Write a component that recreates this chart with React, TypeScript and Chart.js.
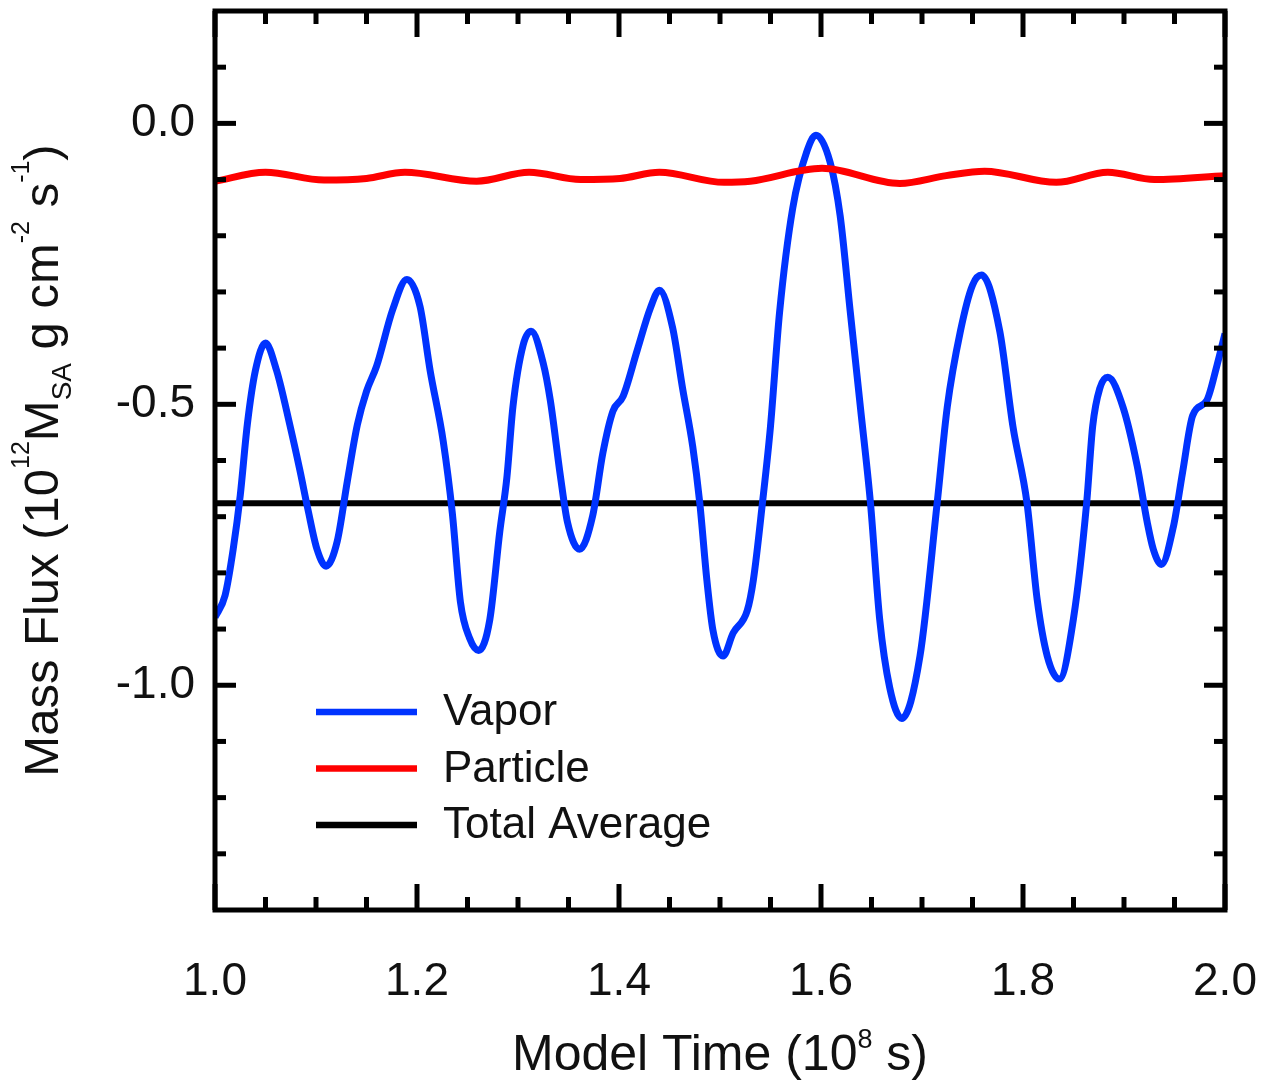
import React, { useEffect, useRef } from "react";
import { Chart, registerables } from "chart.js";

Chart.register(...registerables);

// ---- data ----
const vaporTime = [
  1.0, 1.01, 1.018, 1.025, 1.032, 1.04, 1.05, 1.061, 1.074, 1.084, 1.092, 1.101, 1.11, 1.121, 1.131,
  1.141, 1.15, 1.16, 1.176, 1.19, 1.203, 1.213, 1.226, 1.235, 1.243, 1.252, 1.261, 1.272, 1.282,
  1.289, 1.295, 1.305, 1.313, 1.325, 1.332, 1.342, 1.349, 1.361, 1.374, 1.384, 1.394, 1.404, 1.418,
  1.431, 1.44, 1.453, 1.463, 1.473, 1.48, 1.487, 1.493, 1.503, 1.513, 1.527, 1.533, 1.542, 1.55,
  1.559, 1.572, 1.586, 1.595, 1.609, 1.619, 1.629, 1.639, 1.649, 1.658, 1.668, 1.68, 1.698, 1.715,
  1.725, 1.738, 1.75, 1.759, 1.777, 1.79, 1.804, 1.814, 1.824, 1.836, 1.85, 1.863, 1.869, 1.876,
  1.884, 1.899, 1.913, 1.923, 1.929, 1.937, 1.949, 1.958, 1.968, 1.982, 1.992, 2.0,
];
const vaporFlux = [
  -0.879, -0.84, -0.758, -0.662, -0.536, -0.44, -0.391, -0.44, -0.536, -0.617, -0.687, -0.758, -0.788,
  -0.744, -0.637, -0.536, -0.477, -0.432, -0.331, -0.278, -0.326, -0.44, -0.566, -0.694, -0.852,
  -0.916, -0.938, -0.884, -0.726, -0.63, -0.504, -0.395, -0.37, -0.427, -0.493, -0.628, -0.71, -0.758,
  -0.698, -0.587, -0.512, -0.486, -0.404, -0.329, -0.297, -0.363, -0.472, -0.575, -0.676, -0.813,
  -0.902, -0.948, -0.907, -0.867, -0.813, -0.676, -0.539, -0.336, -0.151, -0.05, -0.021, -0.069,
  -0.165, -0.336, -0.505, -0.676, -0.881, -1.004, -1.059, -0.948, -0.676, -0.505, -0.37, -0.288,
  -0.27, -0.37, -0.539, -0.676, -0.847, -0.948, -0.989, -0.881, -0.676, -0.539, -0.472, -0.452,
  -0.505, -0.609, -0.71, -0.758, -0.785, -0.717, -0.621, -0.52, -0.493, -0.431, -0.374,
];
const particleTime = [
  1.0, 1.05, 1.108, 1.15, 1.188, 1.259, 1.311, 1.362, 1.401, 1.44, 1.504, 1.53, 1.601, 1.678, 1.724,
  1.762, 1.833, 1.884, 1.93, 2.0,
];
const particleFlux = [
  -0.103, -0.087, -0.101, -0.098, -0.087, -0.103, -0.087, -0.1, -0.098, -0.087, -0.105, -0.103, -0.08,
  -0.107, -0.093, -0.085, -0.105, -0.087, -0.1, -0.093,
];
const averageTime = [1.0, 2.0];
const averageFlux = [-0.676, -0.676];

const seriesLabels = ["Vapor", "Particle", "Total Average"];
const seriesColors = ["#0033ff", "#ff0000", "#000000"];

const xMajorTicks = [1.0, 1.2, 1.4, 1.6, 1.8, 2.0];
const xMinorTicks = [1.05, 1.1, 1.15, 1.25, 1.3, 1.35, 1.45, 1.5, 1.55, 1.65, 1.7, 1.75, 1.85, 1.9, 1.95];
const yMajorTicks = [-1.0, -0.5, 0.0];
const yMinorTicks = [0.1, -0.1, -0.2, -0.3, -0.4, -0.6, -0.7, -0.8, -0.9, -1.1, -1.2, -1.3];

const FONT = "'Liberation Sans', Arial, Helvetica, sans-serif";

type Seg = { t: string; size: number; dy: number };

function richWidth(ctx: CanvasRenderingContext2D, segs: Seg[]) {
  let w = 0;
  for (const s of segs) {
    ctx.font = `${s.size}px ${FONT}`;
    w += ctx.measureText(s.t).width;
  }
  return w;
}
function drawRich(ctx: CanvasRenderingContext2D, segs: Seg[], cx: number) {
  const w = richWidth(ctx, segs);
  let x = cx - w / 2;
  ctx.textAlign = "left";
  ctx.textBaseline = "alphabetic";
  for (const s of segs) {
    ctx.font = `${s.size}px ${FONT}`;
    ctx.fillText(s.t, x, s.dy);
    x += ctx.measureText(s.t).width;
  }
}

const xTitle: Seg[] = [
  { t: "Model Time (10", size: 50, dy: 0 },
  { t: "8", size: 27, dy: -22 },
  { t: " s)", size: 50, dy: 0 },
];
const yTitle: Seg[] = [
  { t: "Mass Flux (10", size: 49, dy: 0 },
  { t: "12", size: 25, dy: -29 },
  { t: "M", size: 49, dy: 0 },
  { t: "SA", size: 28, dy: 13 },
  { t: " g cm", size: 49, dy: 0 },
  { t: "-2", size: 25, dy: -29 },
  { t: " s", size: 49, dy: 0 },
  { t: "-1", size: 25, dy: -29 },
  { t: ")", size: 49, dy: 0 },
];

const zeroPad = (s: any) => {
  s.paddingLeft = 0;
  s.paddingRight = 0;
  s.paddingTop = 0;
  s.paddingBottom = 0;
};

const framePlugin = {
  id: "framePlugin",
  afterDatasetsDraw(chart: any) {
    const { ctx, chartArea: a, scales } = chart;
    const xs = scales.x;
    const ys = scales.y;
    ctx.save();
    ctx.strokeStyle = "#000";
    ctx.lineWidth = 5;
    ctx.lineCap = "butt";
    const tick = (x1: number, y1: number, x2: number, y2: number) => {
      ctx.beginPath();
      ctx.moveTo(x1, y1);
      ctx.lineTo(x2, y2);
      ctx.stroke();
    };
    for (const v of xMajorTicks) {
      const p = xs.getPixelForValue(v);
      tick(p, a.bottom, p, a.bottom - 26);
      tick(p, a.top, p, a.top + 26);
    }
    for (const v of xMinorTicks) {
      const p = xs.getPixelForValue(v);
      tick(p, a.bottom, p, a.bottom - 13);
      tick(p, a.top, p, a.top + 13);
    }
    for (const v of yMajorTicks) {
      const p = ys.getPixelForValue(v);
      tick(a.left, p, a.left + 21, p);
      tick(a.right, p, a.right - 21, p);
    }
    for (const v of yMinorTicks) {
      const p = ys.getPixelForValue(v);
      tick(a.left, p, a.left + 11, p);
      tick(a.right, p, a.right - 11, p);
    }
    ctx.lineWidth = 5;
    ctx.strokeRect(a.left, a.top, a.right - a.left, a.bottom - a.top);

    // legend
    const ds = chart.data.datasets;
    [0, 1, 2].forEach((i, k) => {
      const y = 712 + k * 56.5;
      ctx.strokeStyle = ds[i].borderColor;
      ctx.lineWidth = 6.5;
      tick(316, y, 417, y);
      ctx.fillStyle = "#111";
      ctx.font = `44px ${FONT}`;
      ctx.textAlign = "left";
      ctx.textBaseline = "alphabetic";
      ctx.fillText(ds[i].label, 443, y + 13);
    });

    // axis titles
    ctx.fillStyle = "#111";
    ctx.save();
    ctx.translate(0, 1070);
    drawRich(ctx, xTitle, (a.left + a.right) / 2);
    ctx.restore();
    ctx.save();
    ctx.translate(58, (a.top + a.bottom) / 2);
    ctx.rotate(-Math.PI / 2);
    drawRich(ctx, yTitle, 0);
    ctx.restore();
    ctx.restore();
  },
};

export default function App() {
  const ref = useRef<HTMLCanvasElement | null>(null);
  useEffect(() => {
    if (!ref.current) return;
    const chart = new Chart(ref.current, {
      type: "line",
      data: {
        datasets: [
          {
            label: seriesLabels[0],
            data: vaporTime.map((t, i) => ({ x: t, y: vaporFlux[i] })),
            borderColor: seriesColors[0],
            borderWidth: 7,
            cubicInterpolationMode: "monotone",
            pointRadius: 0,
            order: 1,
          },
          {
            label: seriesLabels[1],
            data: particleTime.map((t, i) => ({ x: t, y: particleFlux[i] })),
            borderColor: seriesColors[1],
            borderWidth: 7,
            cubicInterpolationMode: "monotone",
            pointRadius: 0,
            order: 0,
          },
          {
            label: seriesLabels[2],
            data: averageTime.map((t, i) => ({ x: t, y: averageFlux[i] })),
            borderColor: seriesColors[2],
            borderWidth: 6,
            pointRadius: 0,
            order: 2,
          },
        ],
      },
      options: {
        animation: false,
        responsive: false,
        layout: { autoPadding: false, padding: { top: 11, right: 46, left: 0, bottom: 0 } },
        plugins: { legend: { display: false }, tooltip: { enabled: false } },
        scales: {
          x: {
            type: "linear",
            min: 1,
            max: 2,
            afterBuildTicks: (s: any) => {
              s.ticks = xMajorTicks.map((v) => ({ value: v }));
            },
            afterFit: (s: any) => {
              s.height = 173;
              zeroPad(s);
            },
            ticks: {
              callback: (v: any) => Number(v).toFixed(1),
              font: { family: FONT, size: 46 },
              color: "#111",
              padding: 45,
              maxRotation: 0,
              autoSkip: false,
            },
            grid: { display: false, drawTicks: false },
            border: { display: false },
          },
          y: {
            type: "linear",
            min: -1.4,
            max: 0.2,
            afterBuildTicks: (s: any) => {
              s.ticks = yMajorTicks.map((v) => ({ value: v }));
            },
            afterFit: (s: any) => {
              s.width = 215;
              zeroPad(s);
            },
            ticks: {
              callback: (v: any) => Number(v).toFixed(1),
              font: { family: FONT, size: 46 },
              color: "#111",
              padding: 20,
              autoSkip: false,
            },
            grid: { display: false, drawTicks: false },
            border: { display: false },
          },
        },
      } as any,
      plugins: [framePlugin],
    });
    return () => chart.destroy();
  }, []);
  return (
    <canvas
      ref={ref}
      width={1271}
      height={1083}
      style={{ position: "fixed", left: 0, top: 0, display: "block", background: "#fff" }}
    />
  );
}
